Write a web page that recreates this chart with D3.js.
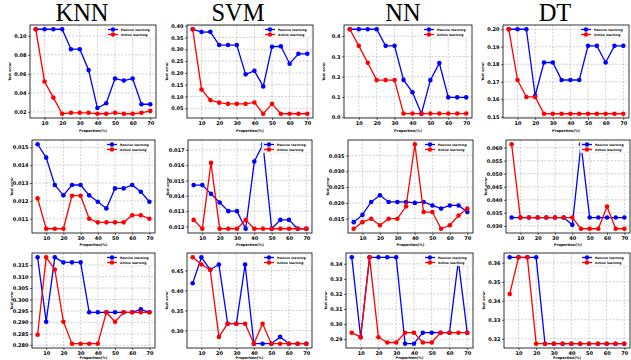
<!DOCTYPE html>
<html><head><meta charset="utf-8">
<script src="https://cdn.jsdelivr.net/npm/d3@7"></script>
<style>body{margin:0;background:#fff}svg{display:block}</style>
</head><body><svg id="c" width="631" height="360"></svg>
<script>
const proportions = [5,10,15,20,25,30,35,40,45,50,55,60,65,70];
const xTickValues = [10,20,30,40,50,60,70];
const models = ["KNN","SVM","NN","DT"];
const legendLabels = ["Passive learning","Active learning"];

// Row 1
const knnPassive1 = [0.107,0.107,0.107,0.107,0.086,0.086,0.064,0.024,0.029,0.055,0.053,0.055,0.028,0.028];
const knnActive1  = [0.107,0.052,0.035,0.018,0.019,0.019,0.019,0.018,0.018,0.019,0.018,0.018,0.019,0.021];
const svmPassive1 = [0.385,0.373,0.374,0.318,0.318,0.318,0.194,0.209,0.143,0.311,0.313,0.239,0.281,0.281];
const svmActive1  = [0.385,0.130,0.085,0.074,0.069,0.069,0.069,0.075,0.027,0.069,0.027,0.027,0.027,0.027];
const nnPassive1  = [0.434,0.434,0.434,0.434,0.352,0.352,0.184,0.123,0.017,0.183,0.267,0.098,0.098,0.098];
const nnActive1   = [0.434,0.352,0.269,0.183,0.183,0.183,0.018,0.018,0.018,0.018,0.018,0.018,0.018,0.018];
const dtPassive1  = [0.200,0.200,0.200,0.162,0.181,0.181,0.171,0.171,0.171,0.1905,0.1905,0.181,0.1905,0.1905];
const dtActive1   = [0.200,0.171,0.1613,0.1613,0.1517,0.1517,0.1517,0.1517,0.1517,0.1517,0.1517,0.1517,0.1517,0.1517];
// Row 2
const knnPassive2 = [0.01517,0.01442,0.01289,0.01231,0.01289,0.01289,0.01231,0.01195,0.01158,0.0127,0.0127,0.01289,0.01251,0.01195];
const knnActive2  = [0.01214,0.01044,0.01044,0.01044,0.01229,0.01229,0.0110,0.0108,0.0108,0.0108,0.0108,0.0112,0.0112,0.0110];
const svmPassive2 = [0.0147,0.0147,0.01413,0.01357,0.0130,0.0130,0.01185,0.01624,0.01737,0.01185,0.01243,0.01243,0.01185,0.01185];
const svmActive2  = [0.01243,0.01185,0.01615,0.01185,0.01185,0.01185,0.01243,0.01185,0.01185,0.01185,0.01185,0.01185,0.01185,0.01185];
const nnPassive2  = [0.0139,0.0162,0.0203,0.0224,0.0203,0.0203,0.0203,0.0200,0.0203,0.0192,0.0182,0.0192,0.0192,0.0171];
const nnActive2   = [0.0118,0.0139,0.0150,0.0129,0.0150,0.0150,0.0189,0.0386,0.0171,0.0171,0.0118,0.0129,0.0160,0.0182];
const dtPassive2  = [0.0332,0.0332,0.0332,0.0332,0.0332,0.0332,0.0332,0.0304,0.0613,0.0332,0.0332,0.0332,0.0332,0.0332];
const dtActive2   = [0.0613,0.0332,0.0332,0.0332,0.0332,0.0332,0.0332,0.0332,0.0289,0.0289,0.0289,0.0374,0.0289,0.0289];
// Row 3
const knnPassive3 = [0.3184,0.2903,0.3184,0.3162,0.3162,0.3162,0.2944,0.2944,0.2944,0.2944,0.2944,0.2944,0.2957,0.2944];
const knnActive3  = [0.2846,0.3184,0.3131,0.2903,0.2807,0.2807,0.2807,0.2807,0.2944,0.2903,0.2944,0.2944,0.2944,0.2944];
const svmPassive3 = [0.418,0.483,0.452,0.465,0.317,0.317,0.465,0.267,0.267,0.267,0.284,0.267,0.267,0.267];
const svmActive3  = [0.483,0.465,0.452,0.284,0.317,0.317,0.317,0.267,0.317,0.267,0.267,0.267,0.267,0.267];
const nnPassive3  = [0.3443,0.2913,0.3443,0.3443,0.3443,0.3443,0.2870,0.2870,0.2943,0.2943,0.2943,0.2943,0.3420,0.2943];
const nnActive3   = [0.2943,0.2913,0.3443,0.2913,0.2878,0.2878,0.2943,0.2943,0.2878,0.2878,0.2943,0.2943,0.2943,0.2943];
const dtPassive3  = [0.3629,0.3629,0.3629,0.3629,0.3174,0.3174,0.3174,0.3174,0.3174,0.3174,0.3174,0.3174,0.3174,0.3174];
const dtActive3   = [0.3436,0.3629,0.3629,0.3174,0.3174,0.3174,0.3174,0.3174,0.3174,0.3174,0.3174,0.3174,0.3174,0.3174];

// Y tick labels per panel
const yTicksKnn1 = [0.02,0.04,0.06,0.08,0.10];
const yTicksSvm1 = [0.05,0.10,0.15,0.20,0.25,0.30,0.35,0.40];
const yTicksNn1  = [0.0,0.1,0.2,0.3,0.4];
const yTicksDt1  = [0.15,0.16,0.17,0.18,0.19,0.20];
const yTicksKnn2 = [0.011,0.012,0.013,0.014,0.015];
const yTicksSvm2 = [0.012,0.013,0.014,0.015,0.016,0.017];
const yTicksNn2  = [0.015,0.020,0.025,0.030,0.035];
const yTicksDt2  = [0.030,0.035,0.040,0.045,0.050,0.055,0.060];
const yTicksKnn3 = [0.280,0.285,0.290,0.295,0.300,0.305,0.310,0.315];
const yTicksSvm3 = [0.30,0.35,0.40,0.45];
const yTicksNn3  = [0.29,0.30,0.31,0.32,0.33,0.34];
const yTicksDt3  = [0.32,0.33,0.34,0.35,0.36];

const panels = [
  {p:knnPassive1,a:knnActive1,t:yTicksKnn1,f:".2f",box:[30,156,25,118],lab:14},
  {p:svmPassive1,a:svmActive1,t:yTicksSvm1,f:".2f",box:[187,313,25,118],lab:14},
  {p:nnPassive1,a:nnActive1,t:yTicksNn1,f:".1f",box:[344,472,25,118],lab:14},
  {p:dtPassive1,a:dtActive1,t:yTicksDt1,f:".2f",box:[503,629,25,118],lab:14},
  {p:knnPassive2,a:knnActive2,t:yTicksKnn2,f:".3f",box:[32,155,140,233],lab:13},
  {p:svmPassive2,a:svmActive2,t:yTicksSvm2,f:".3f",box:[188,312,140,233],lab:13},
  {p:nnPassive2,a:nnActive2,t:yTicksNn2,f:".3f",box:[348,473,140,233],lab:13},
  {p:dtPassive2,a:dtActive2,t:yTicksDt2,f:".3f",box:[506,630,140,233],lab:13},
  {p:knnPassive3,a:knnActive3,t:yTicksKnn3,f:".3f",box:[32,155,253,348],lab:10.8},
  {p:svmPassive3,a:svmActive3,t:yTicksSvm3,f:".2f",box:[187,312,253,348],lab:10.8},
  {p:nnPassive3,a:nnActive3,t:yTicksNn3,f:".2f",box:[346,473,253,348],lab:10.8},
  {p:dtPassive3,a:dtActive3,t:yTicksDt3,f:".2f",box:[504,630,253,348],lab:10.8}
];
const titleX = [82,238,403,555];

const svg = d3.select("#c");
svg.append("rect").attr("width",631).attr("height",360).attr("fill","#fff");

models.forEach((m,i)=>{
  svg.append("text").attr("x",titleX[i]).attr("y",21).attr("text-anchor","middle")
    .attr("font-family","'Liberation Serif','Times New Roman',serif").attr("font-size",24.5).text(m);
});

const colors = ["#0000ff","#ff0000"];
const font = "'DejaVu Sans',sans-serif";

panels.forEach(pn=>{
  const [x0,x1,y0,y1] = pn.box;
  const all = pn.p.concat(pn.a);
  const mn = d3.min(all), mx = d3.max(all), pad = (mx-mn)*0.05;
  const x = d3.scaleLinear().domain([1.75,73.25]).range([x0,x1]);
  const y = d3.scaleLinear().domain([mn-pad,mx+pad]).range([y1,y0]);
  const g = svg.append("g");
  // grid
  g.selectAll(".gx").data(xTickValues).enter().append("line")
    .attr("x1",d=>x(d)).attr("x2",d=>x(d)).attr("y1",y0).attr("y2",y1)
    .attr("stroke","#b0b0b0").attr("stroke-width",0.6).attr("stroke-dasharray","2,1.5");
  g.selectAll(".gy").data(pn.t).enter().append("line")
    .attr("x1",x0).attr("x2",x1).attr("y1",d=>y(d)).attr("y2",d=>y(d))
    .attr("stroke","#b0b0b0").attr("stroke-width",0.6).attr("stroke-dasharray","2,1.5");
  // axes
  const xa = g.append("g").attr("transform",`translate(0,${y1})`)
    .call(d3.axisBottom(x).tickValues(xTickValues).tickSize(2).tickPadding(1).tickFormat(d3.format("d")));
  const ya = g.append("g").attr("transform",`translate(${x0},0)`)
    .call(d3.axisLeft(y).tickValues(pn.t).tickSize(2).tickPadding(1.5).tickFormat(d3.format(pn.f)));
  [xa,ya].forEach(a=>{
    a.select(".domain").remove();
    a.selectAll("text").attr("font-family",font).attr("font-weight","bold").attr("font-size",5).attr("fill","#000");
    a.selectAll("line").attr("stroke","#000").attr("stroke-width",0.6);
  });
  // frame
  g.append("rect").attr("x",x0).attr("y",y0).attr("width",x1-x0).attr("height",y1-y0)
    .attr("fill","none").attr("stroke","#000").attr("stroke-width",0.8);
  // labels
  g.append("text").attr("x",(x0+x1)/2).attr("y",y1+pn.lab).attr("text-anchor","middle")
    .attr("font-family",font).attr("font-weight","bold").attr("font-size",3.5).text("Proportion(%)");
  g.append("text").attr("transform",`translate(${x0-19},${(y0+y1)/2}) rotate(-90)`).attr("text-anchor","middle")
    .attr("font-family",font).attr("font-weight","bold").attr("font-size",3.4).text("Test error");
  // series
  const line = d3.line().x((d,i)=>x(proportions[i])).y(d=>y(d));
  [pn.p,pn.a].forEach((s,k)=>{
    g.append("path").datum(s).attr("d",line).attr("fill","none").attr("stroke",colors[k]).attr("stroke-width",1.3);
    g.selectAll(null).data(s).enter().append("circle")
      .attr("cx",(d,i)=>x(proportions[i])).attr("cy",d=>y(d)).attr("r",2.3).attr("fill",colors[k]);
  });
  // legend
  const lw = 49, lh = 12, lx = x1-lw-1, ly = y0+1;
  g.append("rect").attr("x",lx).attr("y",ly).attr("width",lw).attr("height",lh).attr("rx",1)
    .attr("fill","#fff").attr("fill-opacity",0.9).attr("stroke","#ccc").attr("stroke-width",0.4);
  legendLabels.forEach((t,k)=>{
    const yy = ly+3.5+k*5;
    g.append("line").attr("x1",lx+2).attr("x2",lx+12).attr("y1",yy).attr("y2",yy).attr("stroke",colors[k]).attr("stroke-width",1.3);
    g.append("circle").attr("cx",lx+7).attr("cy",yy).attr("r",2.2).attr("fill",colors[k]);
    g.append("text").attr("x",lx+15).attr("y",yy+1.1).attr("font-family",font).attr("font-weight","bold")
      .attr("font-size",3.1).text(t);
  });
});
</script></body></html>
